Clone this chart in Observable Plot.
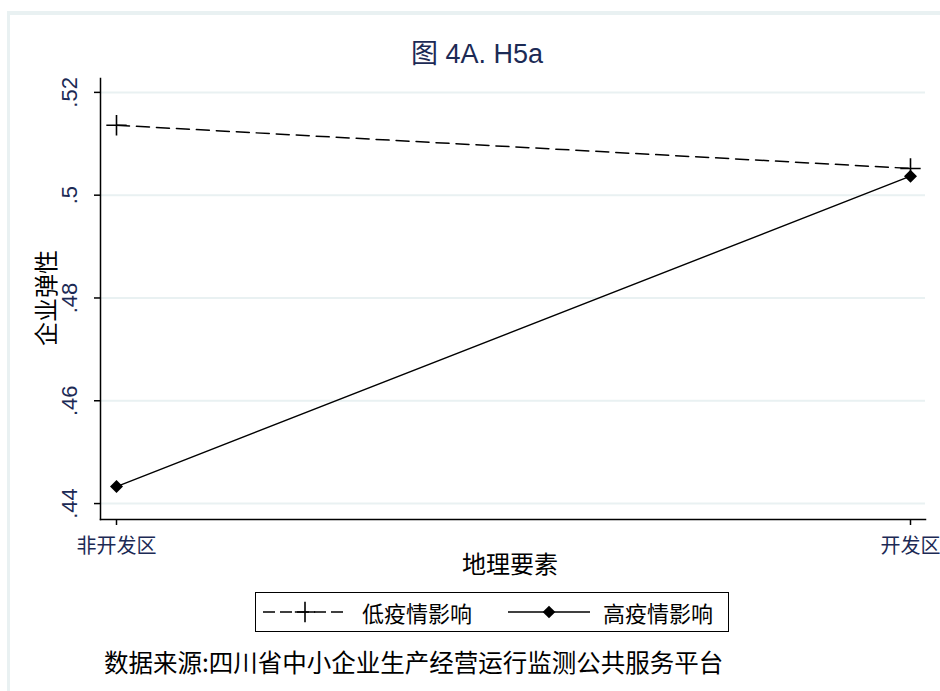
<!DOCTYPE html>
<html>
<head>
<meta charset="utf-8">
<script src="https://cdn.jsdelivr.net/npm/d3@7"></script>
<script src="https://cdn.jsdelivr.net/npm/@observablehq/plot@0.6"></script>
<style>
  body { margin: 0; background: #fff; }
  #fig { position: relative; width: 940px; height: 691px; overflow: hidden; background: #fff;
         font-family: "Liberation Sans", Arial, "Noto Sans CJK SC", sans-serif; }
  #border { position: absolute; left: 7px; top: 11px; width: 960px; height: 720px;
            border-top: 4px solid #e9f1f2; border-left: 3px solid #e9f1f2; }
  #chart { position: absolute; left: 0; top: 0; }
  .cjk { font-family: "Noto Sans CJK SC", sans-serif; }
  #title { position: absolute; left: 411px; top: 39px; white-space: nowrap;
           font-size: 27px; color: #1c2a55; line-height: 30px; }
  #ytitle { position: absolute; left: 45px; top: 298px; transform: translate(-50%, -50%) rotate(-90deg);
            font-size: 24px; color: #000; white-space: nowrap; line-height: 26px; }
  #xtitle { position: absolute; left: 510px; top: 563px; transform: translate(-50%, -50%);
            font-size: 24px; color: #000; white-space: nowrap; line-height: 26px; }
  #legend { position: absolute; left: 255px; top: 592px; width: 472px; height: 38px;
            border: 1.5px solid #000; display: flex; align-items: center; box-sizing: content-box; }
  #legend .item { display: flex; align-items: center; font-size: 22px; color: #000; }
  #caption { position: absolute; left: 104px; top: 648px; font-size: 24.5px; color: #000;
             white-space: nowrap; line-height: 28px; }
</style>
</head>
<body>
<div id="fig">
  <div id="border"></div>
  <div id="chart"></div>
  <div id="title"></div>
  <div id="ytitle" class="cjk"></div>
  <div id="xtitle" class="cjk"></div>
  <div id="legend" class="cjk"></div>
  <div id="caption" class="cjk"></div>
</div>
<script>
// Categories, series and labels
const regions = ["非开发区", "开发区"];
const seriesNames = ["低疫情影响", "高疫情影响"];
const lowImpact = [0.5136, 0.5052];
const highImpact = [0.4433, 0.5037];
const yTicks = [0.44, 0.46, 0.48, 0.50, 0.52];
const yTickLabels = [".44", ".46", ".48", ".5", ".52"];
const titleText = "图 4A. H5a";
const xTitleText = "地理要素";
const yTitleText = "企业弹性";
const captionText = "数据来源:四川省中小企业生产经营运行监测公共服务平台";

const lowRows = regions.map((r, i) => ({region: r, value: lowImpact[i], series: seriesNames[0]}));
const highRows = regions.map((r, i) => ({region: r, value: highImpact[i], series: seriesNames[1]}));

const navy = "#1c2a55";
const dash = "13,7";

const chart = Plot.plot({
  width: 940,
  height: 580,
  marginLeft: 100,
  marginRight: 15,
  marginTop: 78,
  marginBottom: 61,
  style: {background: "transparent", overflow: "visible", fontFamily: "'Liberation Sans', Arial, sans-serif"},
  x: {type: "point", domain: regions, range: [116, 910], padding: 0},
  y: {domain: [0.4369, 0.5227]},
  marks: [
    Plot.gridY(yTicks, {stroke: "#e9f1f2", strokeOpacity: 1, strokeWidth: 2}),
    Plot.frame({anchor: "left", stroke: "#000", strokeWidth: 1.5}),
    Plot.frame({anchor: "bottom", stroke: "#000", strokeWidth: 1.5}),
    Plot.axisY(yTicks, {
      tickSize: 6,
      tickRotate: -90,
      tickPadding: 18,
      fontSize: 22,
      stroke: "#000",
      strokeWidth: 1.5,
      fill: navy,
      tickFormat: d => yTickLabels[yTicks.indexOf(d)],
      label: null
    }),
    Plot.axisX(regions, {
      tickSize: 6,
      tickPadding: 13,
      fontSize: 20,
      stroke: "#000",
      strokeWidth: 1.5,
      fill: navy,
      fontFamily: "'Noto Sans CJK SC', sans-serif",
      label: null
    }),
    Plot.line(lowRows, {x: "region", y: "value", stroke: "#000", strokeWidth: 1.5, strokeDasharray: dash}),
    Plot.dot(lowRows, {x: "region", y: "value", symbol: "plus", r: 6.6, stroke: "#000", strokeWidth: 1.6}),
    Plot.line(highRows, {x: "region", y: "value", stroke: "#000", strokeWidth: 1.4}),
    Plot.dot(highRows, {x: "region", y: "value", symbol: "square", rotate: 45, r: 5.2, fill: "#000", stroke: "none"})
  ]
});
document.getElementById("chart").appendChild(chart);

document.getElementById("title").textContent = titleText;
document.getElementById("ytitle").textContent = yTitleText;
document.getElementById("xtitle").textContent = xTitleText;
document.getElementById("caption").textContent = captionText;

// Legend: line samples drawn with the same styles as the series
const legend = d3.select("#legend");
const keys = [
  {name: seriesNames[0], dash: "12,5", symbol: d3.symbolPlus, fill: "none", stroke: "#000", size: 137, rotate: 0,
   lead: 7, w: 84, textGap: 15},
  {name: seriesNames[1], dash: null, symbol: d3.symbolSquare, fill: "#000", stroke: "none", size: 80, rotate: 45,
   lead: 36, w: 82, textGap: 13}
];
keys.forEach(k => {
  const item = legend.append("div").attr("class", "item").style("margin-left", k.lead + "px");
  const svg = item.append("svg").attr("width", k.w).attr("height", 30);
  svg.append("line")
    .attr("x1", 0).attr("x2", k.w).attr("y1", 15).attr("y2", 15)
    .attr("stroke", "#000").attr("stroke-width", 1.5)
    .attr("stroke-dasharray", k.dash);
  svg.append("path")
    .attr("transform", `translate(${k.w / 2},15) rotate(${k.rotate})`)
    .attr("d", d3.symbol(k.symbol, k.size)())
    .attr("fill", k.fill).attr("stroke", k.stroke).attr("stroke-width", 1.6);
  item.append("span").text(k.name).style("margin-left", k.textGap + "px");
});
</script>
</body>
</html>
